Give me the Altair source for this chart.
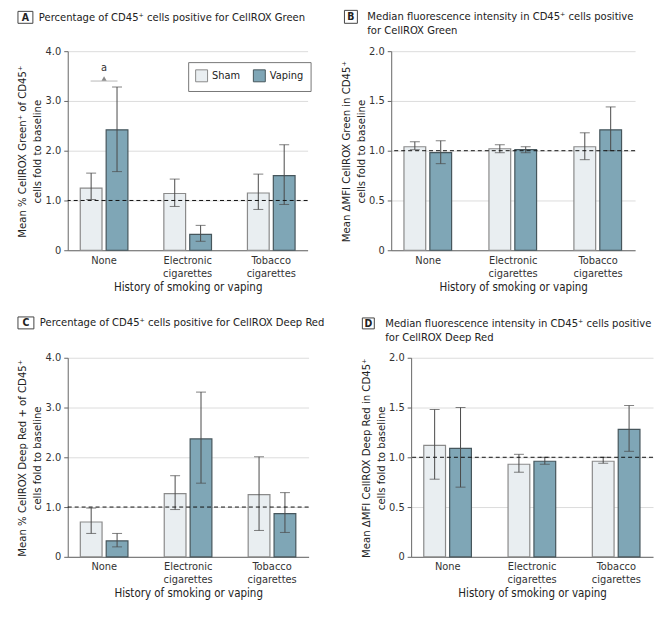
import altair as alt
import pandas as pd

FONT = "DejaVu Sans Condensed, sans-serif"

groups = ["None", "Electronic cigarettes", "Tobacco cigarettes"]
treatments = ["Sham", "Vaping"]

# Panel A: % CellROX Green+ of CD45+
a_sham = [1.25, 1.14, 1.15]
a_sham_lo = [1.02, 0.88, 0.82]
a_sham_hi = [1.55, 1.43, 1.53]
a_vap = [2.42, 0.32, 1.50]
a_vap_lo = [1.58, 0.18, 0.92]
a_vap_hi = [3.28, 0.50, 2.12]

# Panel B: dMFI CellROX Green
b_sham = [1.04, 1.02, 1.04]
b_sham_lo = [1.01, 0.98, 0.91]
b_sham_hi = [1.09, 1.06, 1.18]
b_vap = [0.98, 1.01, 1.21]
b_vap_lo = [0.87, 0.98, 1.00]
b_vap_hi = [1.10, 1.04, 1.44]

# Panel C: % CellROX Deep Red+ of CD45+
c_sham = [0.70, 1.27, 1.25]
c_sham_lo = [0.47, 0.95, 0.53]
c_sham_hi = [0.98, 1.63, 2.01]
c_vap = [0.32, 2.37, 0.87]
c_vap_lo = [0.20, 1.48, 0.49]
c_vap_hi = [0.47, 3.31, 1.29]

# Panel D: dMFI CellROX Deep Red
d_sham = [1.12, 0.93, 0.96]
d_sham_lo = [0.78, 0.85, 0.94]
d_sham_hi = [1.48, 1.03, 1.00]
d_vap = [1.09, 0.96, 1.28]
d_vap_lo = [0.70, 0.93, 1.06]
d_vap_hi = [1.50, 1.00, 1.52]

titles = {
    "A": ["Percentage of CD45⁺ cells positive for CellROX Green"],
    "B": ["Median fluorescence intensity in CD45⁺ cells positive", "for CellROX Green"],
    "C": ["Percentage of CD45⁺ cells positive for CellROX Deep Red"],
    "D": ["Median fluorescence intensity in CD45⁺ cells positive", "for CellROX Deep Red"],
}
ytitles = {
    "A": ["Mean % CellROX Green⁺ of CD45⁺", "cells fold to baseline"],
    "B": ["Mean ΔMFI CellROX Green in CD45⁺", "cells fold to baseline"],
    "C": ["Mean % CellROX Deep Red + of CD45⁺", "cells fold to baseline"],
    "D": ["Mean ΔMFI CellROX Deep Red in CD45⁺", "cells fold to baseline"],
}
xtitle = "History of smoking or vaping"

sig_group = ["None"]
sig_y = [3.4]
sig_label = ["a"]

FILL = ["#e9eef1", "#7fa6b6"]
STROKE = ["#8a8a8a", "#46565c"]


def make_df(sham, slo, shi, vap, vlo, vhi):
    rows = []
    for i, g in enumerate(groups):
        rows.append(dict(group=g, treat="Sham", val=sham[i], lo=slo[i], hi=shi[i]))
        rows.append(dict(group=g, treat="Vaping", val=vap[i], lo=vlo[i], hi=vhi[i]))
    return pd.DataFrame(rows)


one = pd.DataFrame({"k": [0]})


def txt(text, x, y, size, align="left", angle=0, weight="normal", color="#222"):
    return alt.Chart(one).mark_text(font=FONT, fontSize=size, fontWeight=weight, color=color,
                                    align=align, baseline="middle", angle=angle).encode(
        x=alt.value(x), y=alt.value(y), text=alt.value(text))


def panel(letter, df, ymax, ystep, width, box, text_x, ytx, show_legend=False, sig=False):
    ticks = [round(i * ystep, 2) for i in range(int(round(ymax / ystep)) + 1)]
    x = alt.X("group:N", sort=groups, title=xtitle,
              scale=alt.Scale(paddingInner=0.43, paddingOuter=0.15),
              axis=alt.Axis(labelAngle=0, ticks=False, labelExpr="split(datum.label, ' ')",
                            labelPadding=4, titlePadding=3, labelLineHeight=13))
    y = alt.Y("val:Q", title=None,
              scale=alt.Scale(domain=[0, ymax], nice=False),
              axis=alt.Axis(values=ticks, grid=True,
                            labelExpr="datum.value == 0 ? '0' : format(datum.value, '.1f')"))
    xo = alt.XOffset("treat:N", sort=treatments, scale=alt.Scale(paddingInner=0.16, paddingOuter=0))
    if show_legend:
        leg = alt.Legend(title=None, orient="none", legendX=width - 120, legendY=11,
                         direction="horizontal", fillColor="white", strokeColor="#777",
                         padding=7, symbolType="square", symbolSize=144, symbolStrokeWidth=1,
                         labelFontSize=11, labelColor="#222", columnPadding=10, labelOffset=4)
    else:
        leg = None
    fill = alt.Fill("treat:N", sort=treatments,
                    scale=alt.Scale(domain=treatments, range=FILL), legend=leg)
    stroke = alt.Stroke("treat:N", sort=treatments,
                        scale=alt.Scale(domain=treatments, range=STROKE), legend=leg)

    base = alt.Chart(df)
    bars = base.mark_bar(strokeWidth=1.2).encode(x=x, xOffset=xo, y=y, fill=fill, stroke=stroke)
    err = base.mark_rule(color="#4a4a4a", strokeWidth=1).encode(
        x=alt.X("group:N", sort=groups), xOffset=xo, y="lo:Q", y2="hi:Q")
    cap_lo = base.mark_tick(orient="horizontal", size=10, thickness=1, color="#4a4a4a").encode(
        x=alt.X("group:N", sort=groups), xOffset=xo, y="lo:Q")
    cap_hi = base.mark_tick(orient="horizontal", size=10, thickness=1, color="#4a4a4a").encode(
        x=alt.X("group:N", sort=groups), xOffset=xo, y="hi:Q")
    ref = alt.Chart(one).mark_rule(color="#111", strokeDash=[4, 3], strokeWidth=1).encode(
        y=alt.datum(1.0))
    bx0, bx1, by0, by1 = box
    boxmark = alt.Chart(one).mark_rect(fill="white", stroke="#444", strokeWidth=1).encode(
        x=alt.value(bx0), x2=alt.value(bx1), y=alt.value(by0), y2=alt.value(by1))
    cy = (by0 + by1) / 2 + 0.5
    letter_t = txt(letter, (bx0 + bx1) / 2, cy, 10.5, align="center", weight="bold")
    title_layers = [txt(line, text_x, cy + 14 * i, 11.2) for i, line in enumerate(titles[letter])]
    yl1 = txt(ytitles[letter][0], ytx[0], 101, 11.3, align="center", angle=270)
    yl2 = txt(ytitles[letter][1], ytx[1], 101, 11.3, align="center", angle=270)
    layers = [bars, err, cap_lo, cap_hi, ref]
    if sig:
        sdf = pd.DataFrame({"group": sig_group, "y": sig_y, "lab": sig_label})
        sx = alt.X("group:N", sort=groups)
        s_line = alt.Chart(sdf).mark_tick(orient="horizontal", size=27, thickness=1, color="#9a9a9a").encode(
            x=sx, y="y:Q")
        s_tri = alt.Chart(sdf).mark_point(shape="triangle-up", filled=True, size=26, color="#8a8a8a",
                                          opacity=1).encode(x=sx, y=alt.Y("y:Q"), yOffset=alt.value(-2.5))
        s_txt = alt.Chart(sdf).mark_text(font=FONT, fontSize=11, color="#333", dy=-13).encode(
            x=sx, y="y:Q", text="lab:N")
        layers += [s_line, s_tri, s_txt]
    layers += [boxmark, letter_t] + title_layers + [yl1, yl2]
    return alt.layer(*layers).properties(width=width, height=200).resolve_scale(
        fill="independent", stroke="independent")


A = panel("A", make_df(a_sham, a_sham_lo, a_sham_hi, a_vap, a_vap_lo, a_vap_hi), 4.0, 1.0, 241,
          (-50, -35, -40, -28), -29, (-45, -30), show_legend=True, sig=True)
B = panel("B", make_df(b_sham, b_sham_lo, b_sham_hi, b_vap, b_vap_lo, b_vap_hi), 2.0, 0.5, 245,
          (-47, -34, -41, -28), -24, (-44, -29))
C = panel("C", make_df(c_sham, c_sham_lo, c_sham_hi, c_vap, c_vap_lo, c_vap_hi), 4.0, 1.0, 242,
          (-50, -34, -41, -29), -28, (-45, -30))
D = panel("D", make_df(d_sham, d_sham_lo, d_sham_hi, d_vap, d_vap_lo, d_vap_hi), 2.0, 0.5, 243,
          (-49, -37, -40, -29), -26, (-44, -29))

chart = alt.vconcat(
    alt.hconcat(A, B, spacing=29).resolve_scale(fill="independent", stroke="independent"),
    alt.hconcat(C, D, spacing=35).resolve_scale(fill="independent", stroke="independent"),
    spacing=23,
).resolve_scale(fill="independent", stroke="independent").properties(
    padding={"left": 8, "top": 0, "right": 0, "bottom": 0}, background="white"
).configure_view(stroke=None).configure_axis(
    labelFont=FONT, titleFont=FONT, labelFontSize=11, titleFontSize=11.5, labelColor="#333",
    titleColor="#222", titleFontWeight="normal", domainColor="#666", tickColor="#666",
    gridColor="#dcdcdc", tickSize=4,
).configure_axisY(labelPadding=3).configure_axisX(grid=False).configure_legend(
    labelFont=FONT
)

chart.save("out.html", embed_options={"renderer": "svg", "actions": False})
